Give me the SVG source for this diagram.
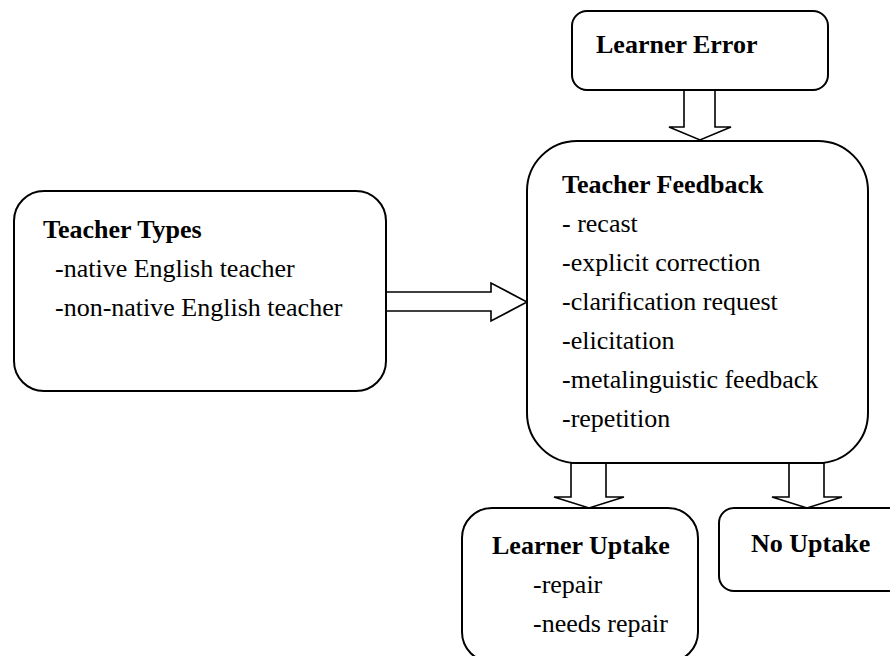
<svg xmlns="http://www.w3.org/2000/svg" width="890" height="656" viewBox="0 0 890 656">
<style>
.box{fill:#fff;stroke:#000;stroke-width:2}
.arr{fill:#fff;stroke:#000;stroke-width:1.6;stroke-linejoin:miter}
text{font-family:"Liberation Serif","Times New Roman",serif;font-size:26px;fill:#000}
.b{font-weight:bold}
</style>
<rect width="890" height="656" fill="#fff"/>
<g id="connectors">
<polygon class="arr" points="684,90 684,127 669,127 700,140 731,127 715,127 715,90"/>
<polygon class="arr" points="386,292 491,292 491,283 527,302 491,321 491,311 386,311"/>
<polygon class="arr" points="571,463 571,497 554,497 589,508 624,497 606,497 606,463"/>
<polygon class="arr" points="789,463 789,497 772,497 807,508 842,497 824,497 824,463"/>
</g>
<g id="learner-error">
<rect class="box" x="572" y="11" width="256" height="79" rx="15"/>
<text class="b" x="596" y="53">Learner Error</text>
</g>
<g id="teacher-types">
<rect class="box" x="14" y="191" width="372" height="200" rx="30"/>
<text class="b" x="43" y="238">Teacher Types</text>
<text x="55" y="277">-native English teacher</text>
<text x="55" y="316">-non-native English teacher</text>
</g>
<g id="teacher-feedback">
<rect class="box" x="527" y="141" width="341" height="322" rx="50"/>
<text class="b" x="562" y="193">Teacher Feedback</text>
<text x="562" y="232">- recast</text>
<text x="562" y="271">-explicit correction</text>
<text x="562" y="310">-clarification request</text>
<text x="562" y="349">-elicitation</text>
<text x="562" y="388">-metalinguistic feedback</text>
<text x="562" y="427">-repetition</text>
</g>
<g id="learner-uptake">
<rect class="box" x="462" y="508" width="236" height="154" rx="30"/>
<text class="b" x="492" y="554">Learner Uptake</text>
<text x="533" y="593">-repair</text>
<text x="533" y="632">-needs repair</text>
</g>
<g id="no-uptake">
<rect class="box" x="719" y="508" width="190" height="83" rx="15"/>
<text class="b" x="751" y="552">No Uptake</text>
</g>
</svg>
